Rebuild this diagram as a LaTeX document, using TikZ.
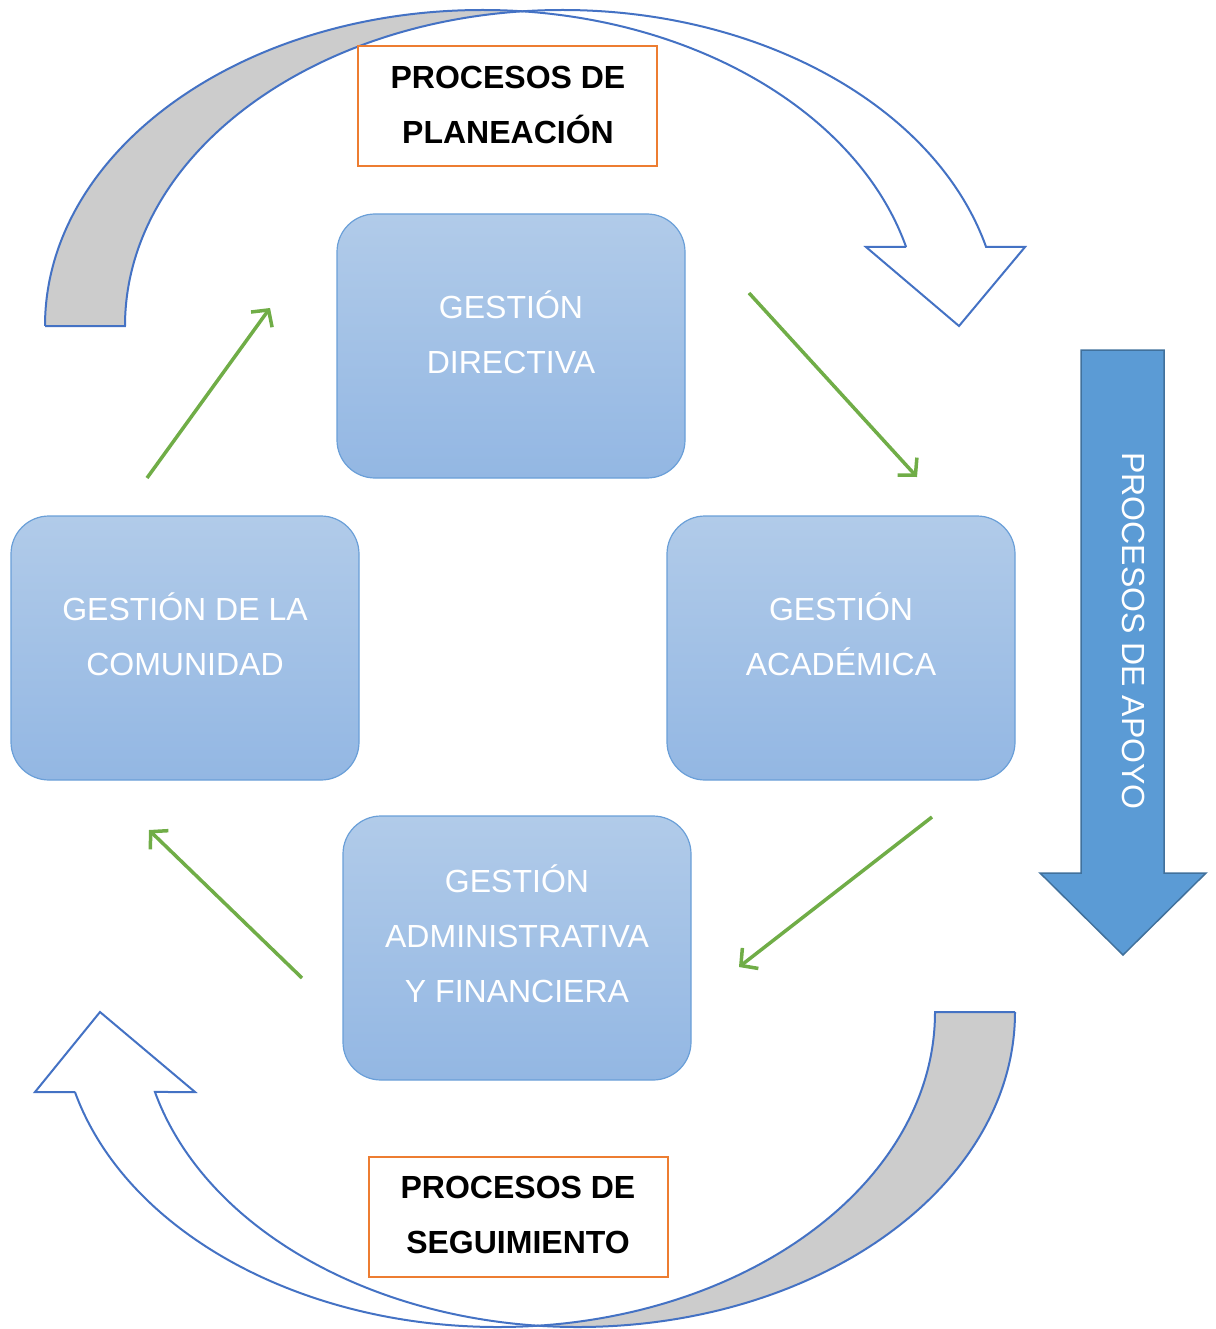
\documentclass[tikz,border=0pt]{standalone}
\usepackage{fontspec}
\setmainfont{Liberation Sans}
\usetikzlibrary{arrows.meta}
\definecolor{lineblue}{HTML}{4472C4}
\definecolor{bandgray}{HTML}{CCCCCC}
\definecolor{boxtop}{HTML}{B1CBE9}
\definecolor{boxbot}{HTML}{93B7E3}
\definecolor{boxedge}{HTML}{6A9FD8}
\definecolor{orangeline}{HTML}{ED7D31}
\definecolor{greenline}{HTML}{70AD47}
\definecolor{apoyofill}{HTML}{5B9BD5}
\definecolor{apoyoedge}{HTML}{41719C}
\tikzset{
  gbox/.style={draw=boxedge, line width=1.2pt, rounded corners=38pt, top color=boxtop, bottom color=boxbot,
    minimum width=348pt, minimum height=264pt, inner sep=0pt},
  boxtxt/.style={text=white, font=\fontsize{32}{38}\selectfont, anchor=base, inner sep=0pt},
  ptxt/.style={text=black, font=\bfseries\fontsize{32}{38}\selectfont, anchor=base, inner sep=0pt},
  obox/.style={draw=orangeline, line width=2pt, fill=white, minimum width=299pt, minimum height=120pt, inner sep=0pt},
  garrow/.style={draw=greenline, line width=3.5pt, -{Straight Barb[length=12pt,width=26pt]}},
  curvedband/.style={draw=lineblue, line width=2pt, line join=miter},
}
\begin{document}
\begin{tikzpicture}[x=1pt,y=1pt]
\useasboundingbox (0,0) rectangle (1215,-1329);

% ---- top curved arrow (planeacion) ----
\fill[bandgray] (45,-326) arc[start angle=180,end angle=84.75,x radius=437.5,y radius=316]
  arc[start angle=95.25,end angle=180,x radius=437.5,y radius=316] -- cycle;
\fill[white] (522.5,-11.3) arc[start angle=95.25,end angle=14.48,x radius=437.5,y radius=316]
  -- (1025,-247) -- (959,-326) -- (866,-247) -- (906.1,-247)
  arc[start angle=14.48,end angle=84.75,x radius=437.5,y radius=316] -- cycle;
\draw[curvedband] (45,-326) arc[start angle=180,end angle=14.48,x radius=437.5,y radius=316];
\draw[curvedband] (45,-326) -- (125,-326) arc[start angle=180,end angle=14.48,x radius=437.5,y radius=316]
  -- (1025,-247) -- (959,-326) -- (866,-247) -- (906.1,-247);

% ---- bottom curved arrow (seguimiento) ----
\fill[bandgray] (1015,-1012) arc[start angle=0,end angle=-95.25,x radius=437.2,y radius=315]
  arc[start angle=-84.75,end angle=0,x radius=437.2,y radius=315] -- cycle;
\fill[white] (537.8,-1325.7) arc[start angle=-95.25,end angle=-165.29,x radius=437.2,y radius=315]
  -- (195,-1092) -- (100,-1012) -- (35,-1092) -- (75,-1092)
  arc[start angle=-165.29,end angle=-84.75,x radius=437.2,y radius=315] -- cycle;
\draw[curvedband] (1015,-1012) arc[start angle=0,end angle=-165.29,x radius=437.2,y radius=315]
  -- (195,-1092) -- (100,-1012) -- (35,-1092) -- (75,-1092);
\draw[curvedband] (1015,-1012) -- (935,-1012) arc[start angle=0,end angle=-165.29,x radius=437.2,y radius=315];

% ---- orange label boxes ----
\node[obox] (plan) at (507.5,-106) {};
\node[ptxt] (plan1) at (508,-88.5) {PROCESOS DE};
\node[ptxt] (plan2) at (508,-143.5) {PLANEACIÓN};
\node[obox] (seg) at (518,-1217) {};
\node[ptxt] (seg1) at (518,-1198.5) {PROCESOS DE};
\node[ptxt] (seg2) at (518,-1253.5) {SEGUIMIENTO};

% ---- apoyo arrow ----
\draw[fill=apoyofill, draw=apoyoedge, line width=1.5pt, line join=miter]
  (1081,-350) -- (1164,-350) -- (1164,-873) -- (1206,-873) -- (1123,-955) -- (1040,-873) -- (1081,-873) -- cycle;
\node[boxtxt, rotate=-90] (apoyo) at (1122.5,-631) {PROCESOS DE APOYO};

% ---- gestion boxes ----
\node[gbox] (dir) at (511,-346) {};
\node[boxtxt] (dir1) at (511,-318.5) {GESTIÓN};
\node[boxtxt] (dir2) at (511,-373.5) {DIRECTIVA};

\node[gbox] (com) at (185,-648) {};
\node[boxtxt] (com1) at (185,-620.5) {GESTIÓN DE LA};
\node[boxtxt] (com2) at (185,-675.5) {COMUNIDAD};

\node[gbox] (aca) at (841,-648) {};
\node[boxtxt] (aca1) at (841,-620.5) {GESTIÓN};
\node[boxtxt] (aca2) at (841,-675.5) {ACADÉMICA};

\node[gbox] (adm) at (517,-948) {};
\node[boxtxt] (adm1) at (517,-892.5) {GESTIÓN};
\node[boxtxt] (adm2) at (517,-947.5) {ADMINISTRATIVA};
\node[boxtxt] (adm3) at (517,-1002.5) {Y FINANCIERA};

% ---- green cycle arrows ----
\coordinate (g1s) at (147,-478);  \coordinate (g1e) at (270,-308);
\coordinate (g2s) at (749,-293);  \coordinate (g2e) at (917,-477);
\coordinate (g3s) at (932,-817);  \coordinate (g3e) at (739,-967);
\coordinate (g4s) at (302,-978);  \coordinate (g4e) at (149,-830);
\draw[garrow] (g1s) -- (g1e);
\draw[garrow] (g2s) -- (g2e);
\draw[garrow] (g3s) -- (g3e);
\draw[garrow] (g4s) -- (g4e);
\end{tikzpicture}
\end{document}
